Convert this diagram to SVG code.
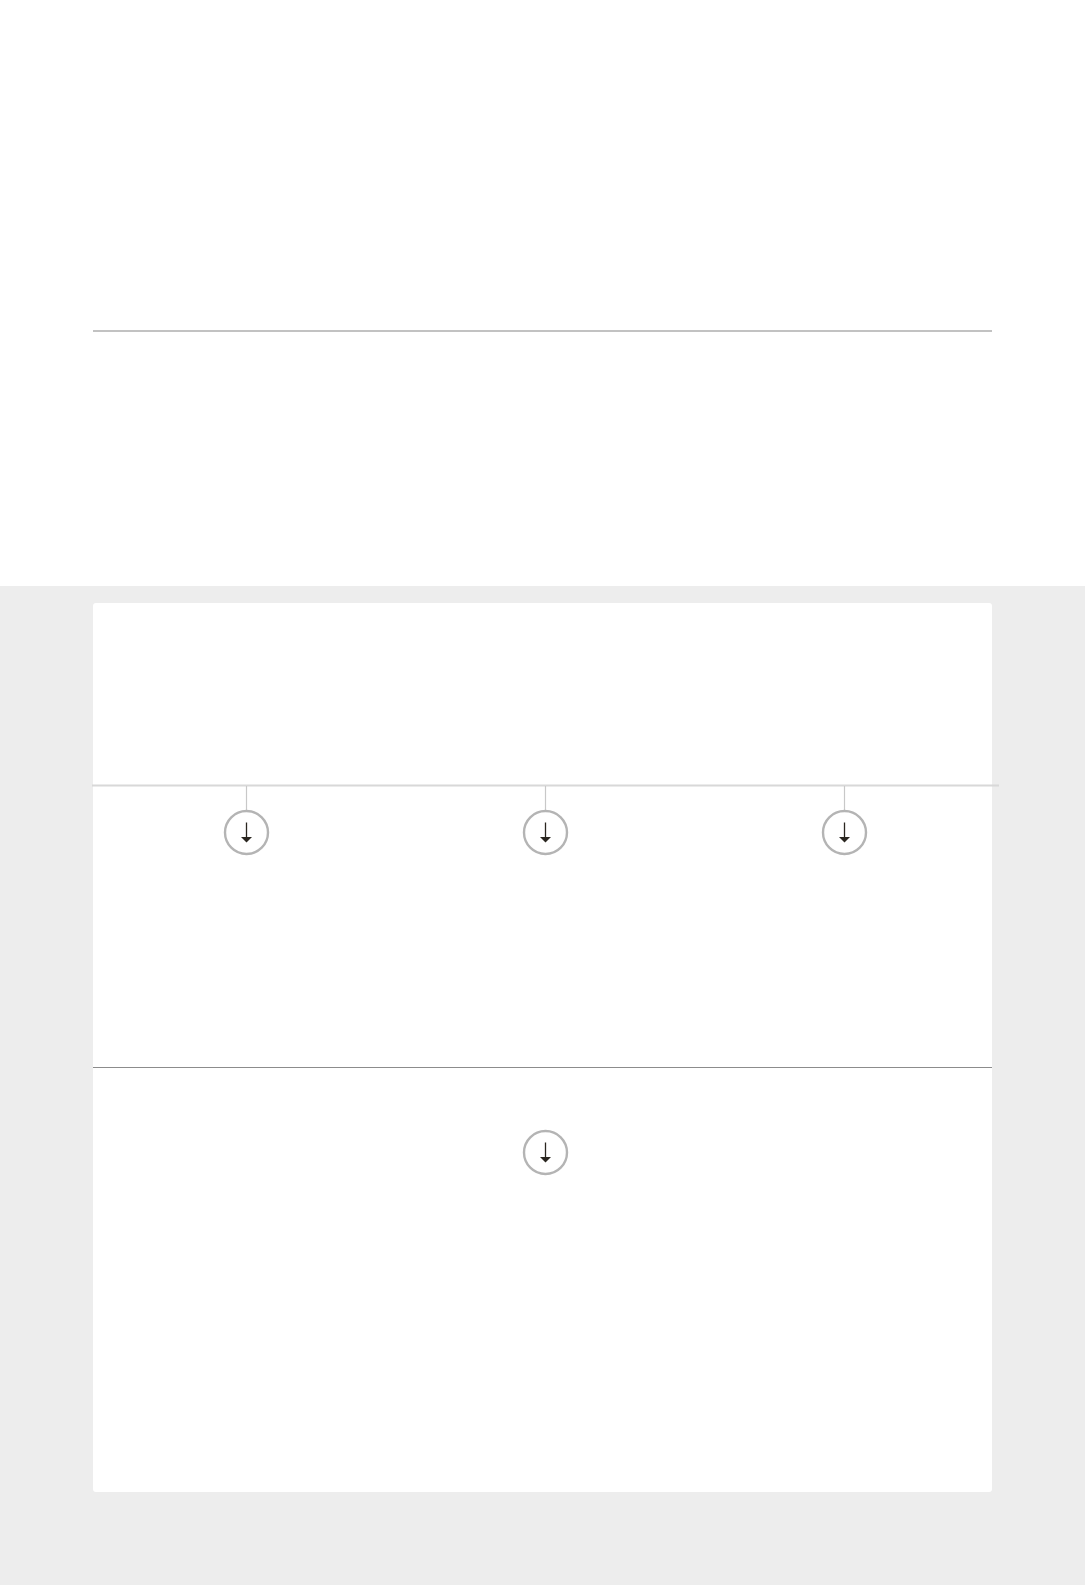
<svg xmlns="http://www.w3.org/2000/svg" width="1085" height="1585" viewBox="0 0 1085 1585">
<style>
.ring{fill:#ffffff;stroke:#b4b4b4;stroke-width:2.4}
.shaft{stroke:#2a2620;stroke-width:1.3}
.head{fill:#2a2620}
.stem{stroke:#c8c8c8;stroke-width:1.2}
</style>
<defs>
<g id="dl">
<circle class="ring" cx="0" cy="0" r="21.5"/>
<line class="shaft" x1="0" y1="-10" x2="0" y2="5"/>
<polygon class="head" points="-5.5,4.5 5.5,4.5 0,10"/>
</g>
</defs>
<rect x="0" y="0" width="1085" height="586" fill="#ffffff"/>
<rect x="0" y="586" width="1085" height="999" fill="#ededed"/>
<line x1="93" y1="331" x2="992" y2="331" stroke="#c2c2c2" stroke-width="2"/>
<rect id="card" x="93" y="603" width="899" height="889" rx="3" fill="#ffffff"/>
<line x1="92" y1="785.5" x2="999" y2="785.5" stroke="#d8d8d8" stroke-width="2"/>
<line x1="93" y1="1067.5" x2="992" y2="1067.5" stroke="#8c8c8c" stroke-width="1.2"/>
<g id="connectors">
<line class="stem" x1="246.5" y1="786" x2="246.5" y2="811"/>
<line class="stem" x1="545.5" y1="786" x2="545.5" y2="811"/>
<line class="stem" x1="844.5" y1="786" x2="844.5" y2="811"/>
</g>
<g id="node1"><use href="#dl" x="246.5" y="832.5"/></g>
<g id="node2"><use href="#dl" x="545.5" y="832.5"/></g>
<g id="node3"><use href="#dl" x="844.5" y="832.5"/></g>
<g id="node4"><use href="#dl" x="545.5" y="1152.5"/></g>
</svg>
